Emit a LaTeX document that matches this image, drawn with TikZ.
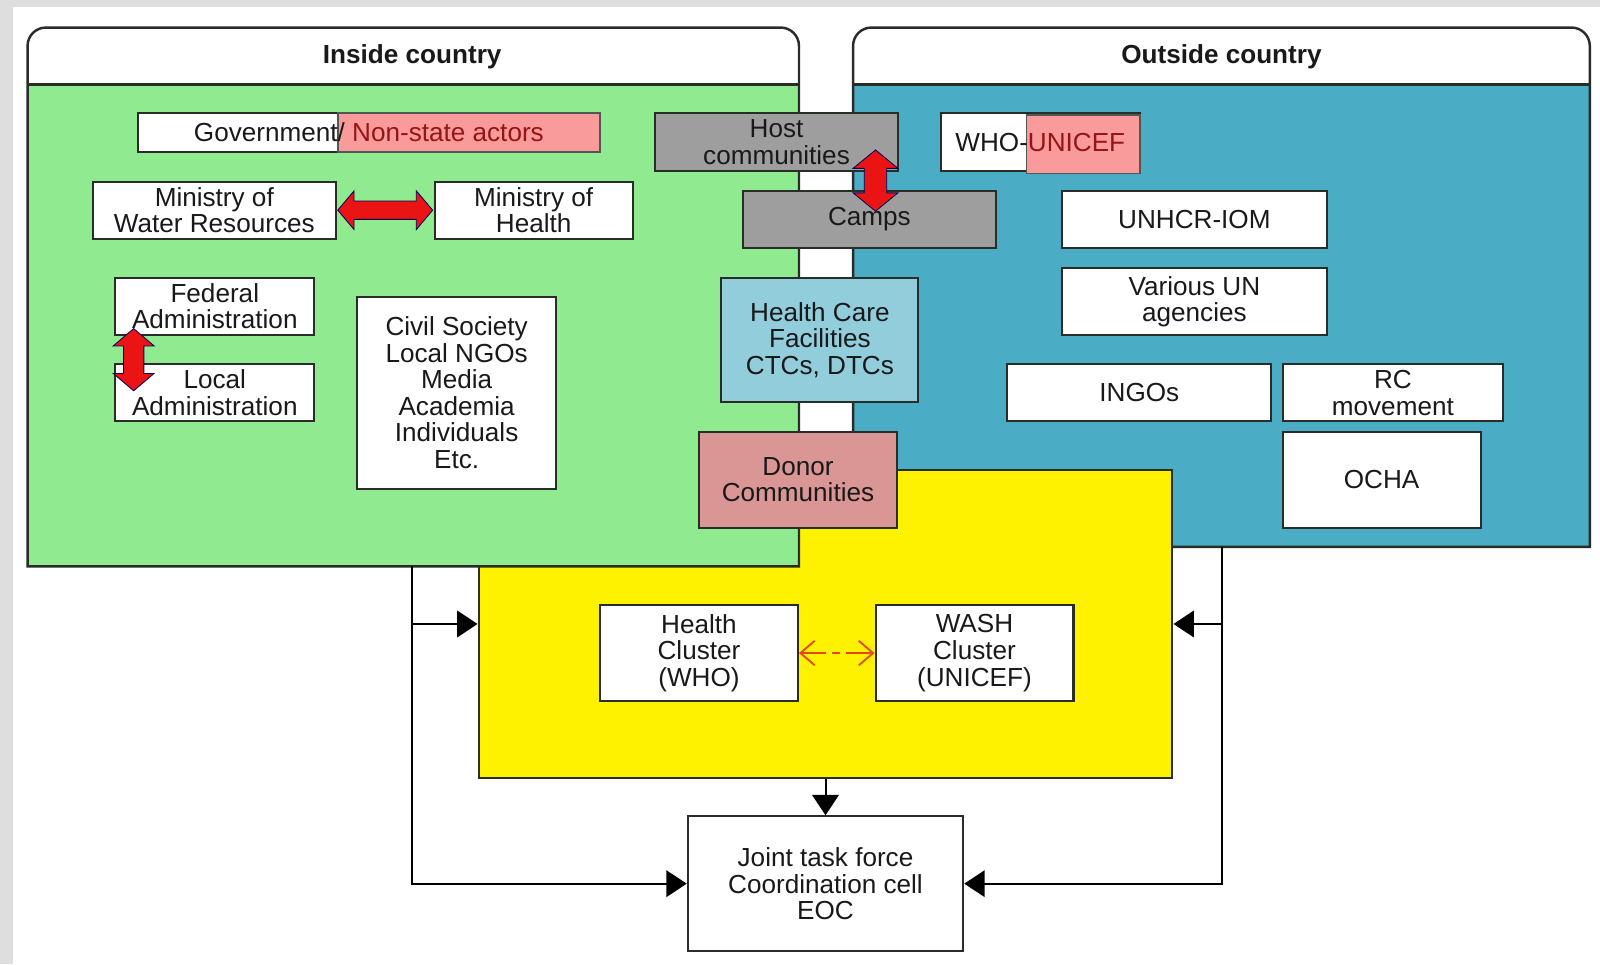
\documentclass[tikz,border=0pt]{standalone}
\usepackage{fontspec}
\setmainfont{Liberation Sans}
\usetikzlibrary{arrows.meta,calc}
\definecolor{frameg}{RGB}{222,222,222}
\definecolor{ingreen}{RGB}{144,234,144}
\definecolor{outblue}{RGB}{75,172,198}
\definecolor{boxgray}{RGB}{158,158,158}
\definecolor{hcfblue}{RGB}{146,205,220}
\definecolor{donorc}{RGB}{217,150,148}
\definecolor{pinkfill}{RGB}{250,155,155}
\definecolor{txtred}{RGB}{150,20,20}
\definecolor{edgec}{RGB}{40,45,40}
\definecolor{fatred}{RGB}{235,20,20}
\definecolor{thinred}{RGB}{230,70,20}
\definecolor{txtc}{RGB}{25,25,25}
\newcommand\dgfont{\fontsize{12.8}{13}\selectfont}
\begin{document}
\begin{tikzpicture}[x=0.5pt,y=-0.5pt,
  every node/.style={font=\dgfont, text=txtc},
  box/.style={draw=edgec, line width=1pt, fill=white, align=center, inner sep=0pt},
  overlay/.style={draw=edgec!80, line width=0.8pt, fill=pinkfill, inner sep=0pt},
  panelline/.style={draw=edgec, line width=1.2pt},
  title/.style={font=\dgfont\bfseries},
  conn/.style={draw=black, line width=1pt},
  tri/.style={-{Triangle[length=10pt,width=13pt]}},
  fatarrow/.style={fill=fatred, draw=blue!35!black, line width=0.4pt},
  thinarrow/.style={{Straight Barb[length=7pt,width=12pt]}-{Straight Barb[length=7pt,width=12pt]}, draw=thinred, line width=0.9pt, dash pattern=on 12pt off 3pt on 4pt off 3pt}
]
\useasboundingbox (0,0) rectangle (1568,945);
\fill[frameg] (0,0) rectangle (1568,945);
\fill[white] (13,7) rectangle (1568,945);

% Outside country panel
\fill[outblue] (836,83) rectangle (1558,536);
\fill[white] (836,83) -- (836,45) arc[start angle=180,end angle=270,radius=18] -- (1540,27) arc[start angle=270,end angle=360,radius=18] -- (1558,83) -- cycle;
\draw[panelline] (836,536) -- (836,45) arc[start angle=180,end angle=270,radius=18] -- (1540,27) arc[start angle=270,end angle=360,radius=18] -- (1558,536) -- cycle;
\draw[panelline] (836,83) -- (1558,83);
\node[title] (outt) at (1197,56) {Outside country};
\coordinate (outB) at (1198,536);

% Yellow cluster area
\node[draw=edgec, line width=1pt, fill=yellow, minimum width=340pt, minimum height=150.5pt, inner sep=0pt] (yel) at (809,611.5) {};

% Inside country panel
\fill[ingreen] (27,83) rectangle (783,555);
\fill[white] (27,83) -- (27,45) arc[start angle=180,end angle=270,radius=18] -- (765,27) arc[start angle=270,end angle=360,radius=18] -- (783,83) -- cycle;
\draw[panelline] (27,555) -- (27,45) arc[start angle=180,end angle=270,radius=18] -- (765,27) arc[start angle=270,end angle=360,radius=18] -- (783,555) -- cycle;
\draw[panelline] (27,83) -- (783,83);
\node[title] (int) at (404,56) {Inside country};
\coordinate (inB) at (404,555);

% Inside boxes
\node[box, minimum width=226.5pt, minimum height=19pt] (gov) at (361.5,130) {};
\node[overlay, minimum width=128.5pt, minimum height=19pt] (govpink) at (459.5,130) {};
\node (govtext) at (gov.center) {Government/ \textcolor{txtred}{Non-state actors}};
\node[box, minimum width=119pt, minimum height=28pt] (mwr) at (210,206) {Ministry of\\Water Resources};
\node[box, minimum width=97pt, minimum height=28pt] (moh) at (523,206) {Ministry of\\Health};
\node[box, minimum width=97.5pt, minimum height=28pt] (fed) at (210.5,300) {Federal\\Administration};
\node[box, minimum width=97.5pt, minimum height=28pt] (loc) at (210.5,385) {Local\\Administration};
\node[box, minimum width=97.5pt, minimum height=94pt] (civ) at (447.5,385) {Civil Society\\Local NGOs\\Media\\Academia\\Individuals\\Etc.};

% Middle boxes
\node[box, fill=boxgray, minimum width=119pt, minimum height=28.5pt] (host) at (761,139.5) {Host\\communities};
\node[box, fill=boxgray, minimum width=124pt, minimum height=28pt] (camps) at (852,215) {Camps};
\node[box, fill=hcfblue, minimum width=96.5pt, minimum height=61pt] (hcf) at (803.5,333) {Health Care\\Facilities\\CTCs, DTCs};
\node[box, fill=donorc, minimum width=97pt, minimum height=47pt] (donor) at (782,470) {Donor\\Communities};

% Outside boxes
\node[box, minimum width=97.5pt, minimum height=28.5pt] (whou) at (1019.5,139.5) {};
\node[overlay, minimum width=55.5pt, minimum height=28.5pt] (whoupink) at (1061.5,141.5) {};
\node (whoutext) at (whou.center) {WHO-\textcolor{txtred}{UNICEF}};
\node[box, minimum width=129.5pt, minimum height=28pt] (unhcr) at (1170.5,215) {UNHCR-IOM};
\node[box, minimum width=129.5pt, minimum height=32.5pt] (unag) at (1170.5,295.5) {Various UN\\agencies};
\node[box, minimum width=129.5pt, minimum height=28pt] (ingo) at (1116.5,385) {INGOs};
\node[box, minimum width=108pt, minimum height=28pt] (rc) at (1365,385) {RC\\movement};
\node[box, minimum width=97pt, minimum height=47pt] (ocha) at (1354,470) {OCHA};

% Clusters and EOC
\node[box, minimum width=97pt, minimum height=47pt] (hc) at (685,640) {Health\\Cluster\\(WHO)};
\node[box, minimum width=97pt, minimum height=47pt] (wash) at (955,640) {WASH\\Cluster\\(UNICEF)};
\node[box, minimum width=135pt, minimum height=66pt] (jtf) at (809,866) {Joint task force\\Coordination cell\\EOC};

% Fat double arrows
\draw[fatarrow] (331,206) -- (347,187) -- (347,197) -- (408,197) -- (408,187) -- (424,206) -- (408,225) -- (408,215) -- (347,215) -- (347,225) -- cycle;
\draw[fatarrow] (131,322) -- (151,339) -- (141,339) -- (141,366) -- (151,366) -- (131,383) -- (111,366) -- (121,366) -- (121,339) -- (111,339) -- cycle;
\draw[fatarrow] (858,147) -- (880,165) -- (869,165) -- (869,189) -- (880,189) -- (858,207) -- (836,189) -- (847,189) -- (847,165) -- (836,165) -- cycle;

% Thin arrow between clusters
\draw[thinarrow] (hc.east) -- (wash.west);

% Connectors
\draw[conn,tri] (inB) |- (jtf.west);
\draw[conn,tri] (inB |- yel.west) -- (yel.west);
\draw[conn,tri] (outB) |- (jtf.east);
\draw[conn,tri] (outB |- yel.east) -- (yel.east);
\draw[conn,tri] (yel.south) -- (jtf.north);
\end{tikzpicture}
\end{document}
